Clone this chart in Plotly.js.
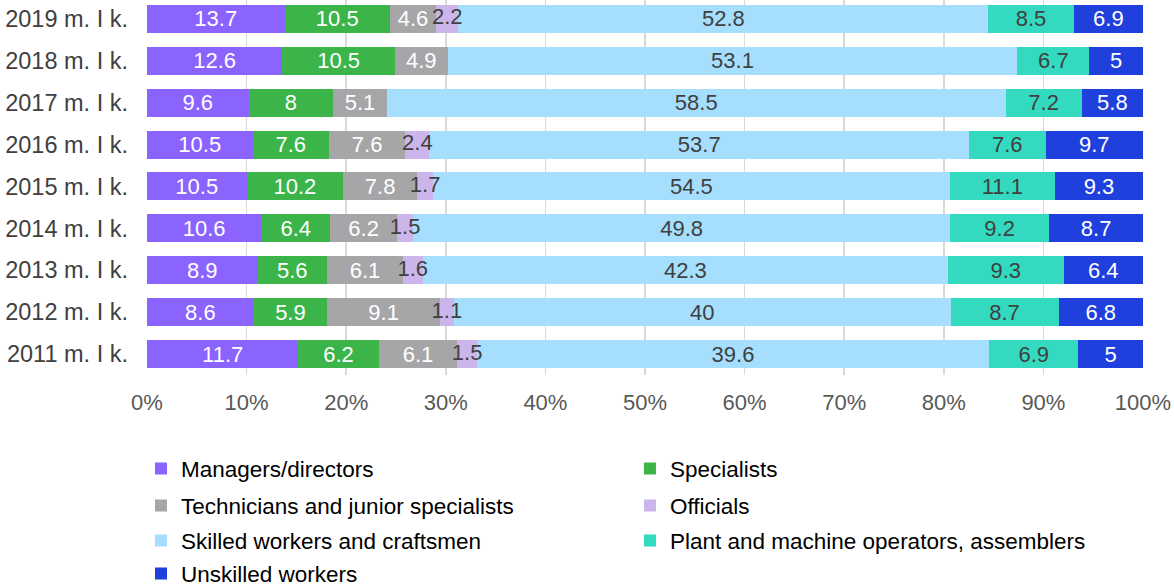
<!DOCTYPE html>
<html>
<head>
<meta charset="utf-8">
<script src="https://cdn.plot.ly/plotly-3.0.1.min.js"></script>
<style>html,body{margin:0;padding:0;background:#fff;}#chart{width:1174px;height:588px;}</style>
</head>
<body>
<div id="chart"></div>
<script>
const years = ["2011 m. I k.", "2012 m. I k.", "2013 m. I k.", "2014 m. I k.", "2015 m. I k.", "2016 m. I k.", "2017 m. I k.", "2018 m. I k.", "2019 m. I k."];
const managers    = [11.7, 8.6, 8.9, 10.6, 10.5, 10.5, 9.6, 12.6, 13.7];
const specialists = [6.2, 5.9, 5.6, 6.4, 10.2, 7.6, 8, 10.5, 10.5];
const technicians = [6.1, 9.1, 6.1, 6.2, 7.8, 7.6, 5.1, 4.9, 4.6];
const officials   = [1.5, 1.1, 1.6, 1.5, 1.7, 2.4, 0, 0, 2.2];
const skilled     = [39.6, 40, 42.3, 49.8, 54.5, 53.7, 58.5, 53.1, 52.8];
const plant       = [6.9, 8.7, 9.3, 9.2, 11.1, 7.6, 7.2, 6.7, 8.5];
const unskilled   = [5, 6.8, 6.4, 8.7, 9.3, 9.7, 5.8, 5, 6.9];
const xTicks = [0, 10, 20, 30, 40, 50, 60, 70, 80, 90, 100];

const FONT = "Liberation Sans, Arial, sans-serif";

// legend placement: column (0/1) and row (0..3)
const series = [
  {name: "Managers/directors", v: managers, color: "#8B63FF", tc: "#FFFFFF", col: 0, row: 0},
  {name: "Specialists", v: specialists, color: "#3BB54A", tc: "#FFFFFF", col: 1, row: 0},
  {name: "Technicians and junior specialists", v: technicians, color: "#A6A6A9", tc: "#FFFFFF", col: 0, row: 1},
  {name: "Officials", v: officials, color: "#CBB5EA", tc: "#404040", col: 1, row: 1, overlay: true},
  {name: "Skilled workers and craftsmen", v: skilled, color: "#A6DEFE", tc: "#404040", col: 0, row: 2},
  {name: "Plant and machine operators, assemblers", v: plant, color: "#33DABF", tc: "#404040", col: 1, row: 2},
  {name: "Unskilled workers", v: unskilled, color: "#1F40DD", tc: "#FFFFFF", col: 0, row: 3}
];

const totals = years.map((_, j) => series.reduce((a, s) => a + s.v[j], 0));

const traces = series.map((s, i) => ({
  type: "bar",
  orientation: "h",
  name: s.name,
  y: years,
  x: s.v,
  text: s.overlay ? s.v.map(() => "") : s.v.map(v => v ? String(v) : ""),
  textposition: "inside",
  insidetextanchor: "middle",
  constraintext: "none",
  textangle: 0,
  cliponaxis: false,
  textfont: {family: FONT, size: 22, color: s.tc},
  marker: {color: s.color, line: {width: 0}},
  legend: i === 0 ? "legend" : "legend" + (i + 1),
  hoverinfo: "skip"
}));

// Overlay labels for narrow "Officials" segments (drawn above neighbouring bars)
series.forEach((s, i) => {
  if (!s.overlay) return;
  const xs = [], ys = [], ts = [];
  years.forEach((y, j) => {
    if (!s.v[j]) return;
    let before = 0;
    for (let k = 0; k < i; k++) before += series[k].v[j];
    xs.push((before + s.v[j] / 2) / totals[j] * 100);
    ys.push(y);
    ts.push(String(s.v[j]));
  });
  traces.push({
    type: "scatter", mode: "text", x: xs, y: ys, text: ts,
    textposition: "middle center",
    textfont: {family: FONT, size: 22, color: s.tc},
    showlegend: false, hoverinfo: "skip", cliponaxis: false
  });
});

const legendCommon = {
  orientation: "v",
  xref: "container", yref: "container",
  yanchor: "top", xanchor: "left",
  font: {family: FONT, size: 22.5, color: "#000000"},
  itemwidth: 30,
  bgcolor: "rgba(0,0,0,0)"
};
const colX = [0.1201, 0.5366];
const rowY = [0.2391, 0.1762, 0.1167, 0.0605];

const layout = {
  width: 1174, height: 588,
  margin: {l: 147, r: 31, t: 0, b: 213, autoexpand: false},
  paper_bgcolor: "#FFFFFF",
  plot_bgcolor: "#FFFFFF",
  barmode: "stack",
  barnorm: "percent",
  bargap: 0.33,
  showlegend: true,
  xaxis: {
    range: [0, 100.0001],
    tickvals: xTicks,
    ticktext: xTicks.map(t => t + "%"),
    showgrid: true, gridcolor: "#D9D9D9", gridwidth: 1.5,
    zeroline: false, showline: false,
    ticks: "", ticklabelstandoff: 12,
    tickfont: {family: FONT, size: 22, color: "#595959"},
    fixedrange: true
  },
  yaxis: {
    type: "category",
    categoryorder: "array", categoryarray: years,
    range: [-0.5, 8.45],
    showgrid: false, zeroline: false, showline: false,
    ticks: "", ticklabelstandoff: 18,
    tickfont: {family: FONT, size: 23.5, color: "#404040"},
    fixedrange: true
  }
};
series.forEach((s, i) => {
  const key = i === 0 ? "legend" : "legend" + (i + 1);
  layout[key] = Object.assign({}, legendCommon, {x: colX[s.col], y: rowY[s.row]});
});

Plotly.newPlot("chart", traces, layout, {displayModeBar: false, staticPlot: true});
</script>
</body>
</html>
